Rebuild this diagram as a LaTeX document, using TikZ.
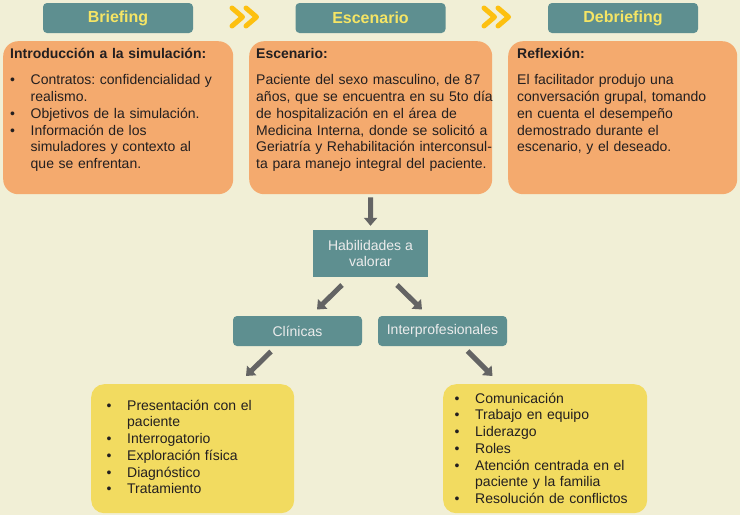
\documentclass[tikz,border=0pt]{standalone}
\usepackage{fontspec}
\setmainfont{Liberation Sans}
\usetikzlibrary{arrows.meta}
\definecolor{bg}{HTML}{F1EFD6}
\definecolor{tealbox}{HTML}{5E8F90}
\definecolor{orangebox}{HTML}{F4AA6E}
\definecolor{yellowbox}{HTML}{F2DB60}
\definecolor{hdrtext}{HTML}{F5E565}
\definecolor{chev}{HTML}{FDC010}
\definecolor{arrgray}{HTML}{646464}
\definecolor{darktext}{HTML}{231F20}
\definecolor{lighttext}{HTML}{ECECEC}
\newcommand\nl{\hfil\break}
\newcommand\fitem[1]{\hangindent=20.5pt\hangafter=1\makebox[20.5pt][l]{\textbullet}#1\par}
\newcommand\bitem[1]{\noindent\fitem{#1}}
\newcommand\nopars{\setlength\parskip{0pt}\setlength\parindent{0pt}\frenchspacing}
\tikzset{
  head/.style={fill=tealbox, rounded corners=4pt, text=hdrtext, inner sep=0pt,
    minimum width=150pt, minimum height=30pt, font=\fontsize{16}{19}\selectfont\bfseries},
  obox/.style={fill=orangebox, rounded corners=15pt, inner sep=0pt, anchor=north west},
  ybox/.style={fill=yellowbox, rounded corners=13pt, inner sep=0pt, anchor=north west},
  tbox/.style={fill=tealbox, inner sep=0pt, text=lighttext, align=center,
    font=\fontsize{14}{16.7}\selectfont},
  txt/.style={anchor=base west, inner sep=0pt, text=darktext, text width=#1,
    align=left, font=\fontsize{14}{16.75}\selectfont, execute at begin node=\nopars},
  arr/.style={draw=arrgray, line width=5pt, -{Triangle[width=13pt,length=8pt]}},
  chevline/.style={draw=chev, line width=5pt, line cap=round, line join=round},
}
\begin{document}
\begin{tikzpicture}[x=1pt,y=-1pt]
\useasboundingbox (0,0) rectangle (740,515);
\fill[bg] (0,0) rectangle (740,515);

% headers
\node[head] (hb) at (118,18) {Briefing};
\node[head] (he) at (370.5,18) {Escenario};
\node[head] (hd) at (623,18) {Debriefing};

% chevrons
\draw[chevline] (232,8) -- (242.5,17) -- (232,26);
\draw[chevline] (246,8) -- (256.5,17) -- (246,26);
\draw[chevline] (484,8) -- (494.5,17) -- (484,26);
\draw[chevline] (498,8) -- (508.5,17) -- (498,26);

% orange boxes
\node[obox, minimum width=230pt, minimum height=153pt] (b1) at (3,41) {};
\node[obox, minimum width=243pt, minimum height=153pt] (b2) at (249,41) {};
\node[obox, minimum width=229pt, minimum height=153pt] (b3) at (508,41) {};

\node[txt=225pt] (t1) at (10,58) {\textbf{Introducción a la simulación:}\par\vspace{10pt}%
\bitem{Contratos: confidencialidad y\nl realismo.}%
\bitem{Objetivos de la simulación.}%
\bitem{Información de los\nl simuladores y contexto al\nl que se enfrentan.}};

\node[txt=240pt] (t2) at (256,58) {\textbf{Escenario:}\par\vspace{10pt}%
Paciente del sexo masculino, de 87\nl años, que se encuentra en su 5to día\nl de hospitalización en el área de\nl Medicina Interna, donde se solicitó a\nl Geriatría y Rehabilitación interconsul-\nl ta para manejo integral del paciente.};

\node[txt=220pt] (t3) at (517,58) {\textbf{Reflexión:}\par\vspace{10pt}%
El facilitador produjo una\nl conversación grupal, tomando\nl en cuenta el desempeño\nl demostrado durante el\nl escenario, y el deseado.};

% skills
\node[tbox, minimum width=115pt, minimum height=47pt] (hab) at (370.5,253.5) {Habilidades a\\valorar};
\node[tbox, rounded corners=4pt, minimum width=129pt, minimum height=30pt] (cli) at (297.5,331) {Clínicas};
\node[tbox, rounded corners=4pt, minimum width=129pt, minimum height=30pt] (int) at (442.5,331) {Interprofesionales};

% yellow boxes
\node[ybox, minimum width=203pt, minimum height=129pt] (y1) at (91,384) {};
\node[ybox, minimum width=204pt, minimum height=129pt] (y2) at (443,384) {};

\node[txt=200pt] (l1) at (106.5,410) {%
\fitem{Presentación con el\nl paciente}%
\bitem{Interrogatorio}%
\bitem{Exploración física}%
\bitem{Diagnóstico}%
\bitem{Tratamiento}};

\node[txt=200pt] (l2) at (454.5,403) {%
\fitem{Comunicación}%
\bitem{Trabajo en equipo}%
\bitem{Liderazgo}%
\bitem{Roles}%
\bitem{Atención centrada en el\nl paciente y la familia}%
\bitem{Resolución de conflictos}};

% arrows
\draw[arr] ([yshift=-3pt]b2.south) -- ([yshift=4pt]hab.north);
\coordinate (a1s) at (342,285);
\coordinate (a1e) at (317,309.5);
\coordinate (a2s) at (397,285);
\coordinate (a2e) at (422,309.5);
\coordinate (a3s) at (271,351.5);
\coordinate (a3e) at (246,376);
\coordinate (a4s) at (467.5,351);
\coordinate (a4e) at (492.5,376);
\draw[arr] (a1s) -- (a1e);
\draw[arr] (a2s) -- (a2e);
\draw[arr] (a3s) -- (a3e);
\draw[arr] (a4s) -- (a4e);
\end{tikzpicture}
\end{document}
